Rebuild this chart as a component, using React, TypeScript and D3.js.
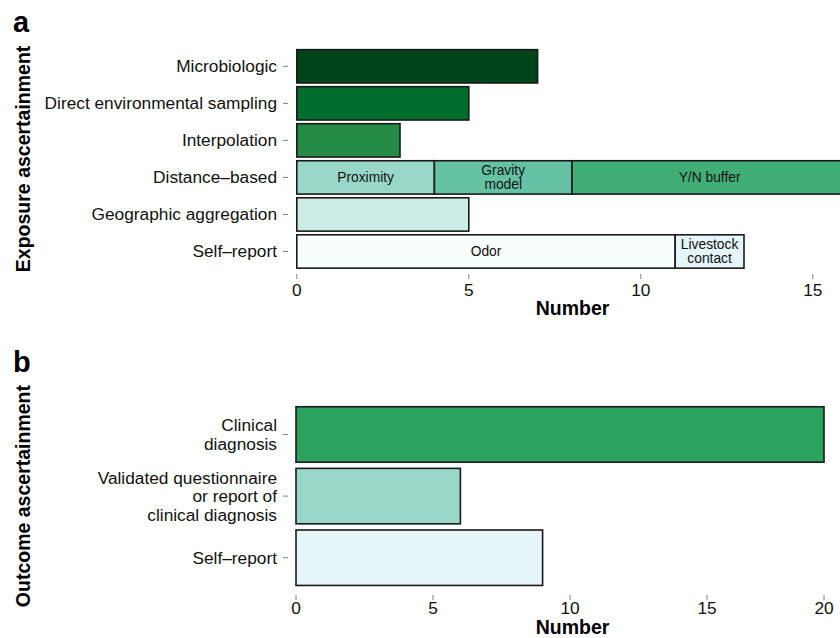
import React from "react";
import * as d3 from "d3";

// ---------- Data ----------
const exposureCategories = [
  "Microbiologic",
  "Direct environmental sampling",
  "Interpolation",
  "Distance–based",
  "Geographic aggregation",
  "Self–report",
];
const exposureSubtypes = [
  "Microbiologic",
  "Direct environmental sampling",
  "Interpolation",
  "Proximity",
  "Gravity\nmodel",
  "Y/N buffer",
  "Geographic aggregation",
  "Odor",
  "Livestock\ncontact",
];
const exposureSubtypeCategory = [0, 1, 2, 3, 3, 3, 4, 5, 5];
const exposureSubtypeCounts = [7, 5, 3, 4, 4, 8, 5, 11, 2];
const exposureSubtypeLabelled = [false, false, false, true, true, true, false, true, true];
const exposureTicks = [0, 5, 10, 15];

const outcomeCategories = [
  "Clinical\ndiagnosis",
  "Validated questionnaire\nor report of\nclinical diagnosis",
  "Self–report",
];
const outcomeCounts = [20, 6, 9];
const outcomeTicks = [0, 5, 10, 15, 20];

// ---------- Styles ----------
const exposureColors = [
  "#00441b",
  "#006d2c",
  "#238b45",
  "#99d8c9",
  "#66c2a4",
  "#41ae76",
  "#ccece6",
  "#f7fcfd",
  "#e5f5f9",
];
const outcomeColors = ["#2ca25f", "#99d8c9", "#e5f5f9"];

const FONT = "'Liberation Sans', Arial, Helvetica, sans-serif";
const TEXT = "#111";
const TICK = "#7f7f7f";
const STROKE = "#1a1a1a";

function MultiLine({ x, y, text, size, anchor, lh }: any) {
  const lines = text.split("\n");
  const off = -((lines.length - 1) * lh) / 2;
  return (
    <text x={x} y={y} fontSize={size} textAnchor={anchor} fill={TEXT} fontFamily={FONT}>
      {lines.map((l: string, i: number) => (
        <tspan key={i} x={x} y={y + off + i * lh} dominantBaseline="central">
          {l}
        </tspan>
      ))}
    </text>
  );
}

export default function App() {
  // Panel a scales
  const xA = d3.scaleLinear().domain([0, 16]).range([296.8, 296.8 + 16 * 34.4]);
  const yA = d3.scaleLinear().domain([0.4, exposureCategories.length + 0.6]).range([44.1, 273.7]);
  // Panel b scales (the reference's last interval is visibly compressed)
  const xB = d3.scaleLinear().domain([0, 15, 20]).range([296, 707, 824]);
  const yB = d3.scaleLinear().domain([0.4, outcomeCategories.length + 0.6]).range([397.5, 594.7]);

  // stack exposure segments
  const starts: number[] = [];
  const cum: Record<number, number> = {};
  exposureSubtypeCounts.forEach((v, i) => {
    const c = exposureSubtypeCategory[i];
    starts.push(cum[c] || 0);
    cum[c] = (cum[c] || 0) + v;
  });

  const bw = 0.9;
  const labelEnd = 277;
  const tickX0 = 283;
  const tickX1 = 288;
  const LBL = 17.3;

  return (
    <svg
      width={840}
      height={638}
      style={{ position: "absolute", left: 0, top: 0, background: "#fff" }}
      fontFamily={FONT}
    >
      <rect x={0} y={0} width={840} height={638} fill="#fff" />
      {/* ===== Panel a ===== */}
      <text x={13} y={32} fontSize={29} fontWeight="bold" fill="#000">
        a
      </text>
      <text
        transform={`translate(30, ${(yA.range()[0] + yA.range()[1]) / 2}) rotate(-90)`}
        textAnchor="middle"
        fontSize={19.5}
        fontWeight="bold"
        fill="#000"
      >
        Exposure ascertainment
      </text>
      {exposureCategories.map((c, i) => (
        <g key={c}>
          <line x1={tickX0} x2={tickX1} y1={yA(i + 1)} y2={yA(i + 1)} stroke={TICK} strokeWidth={1} />
          <MultiLine x={labelEnd} y={yA(i + 1)} text={c} size={LBL} anchor="end" lh={18.5} />
        </g>
      ))}
      {exposureSubtypeCounts.map((v, i) => {
        const c = exposureSubtypeCategory[i];
        const x0 = xA(starts[i]);
        const x1 = xA(starts[i] + v);
        const y0 = yA(c + 1 - bw / 2);
        const y1 = yA(c + 1 + bw / 2);
        return (
          <g key={i}>
            <rect
              x={x0}
              y={y0}
              width={x1 - x0}
              height={y1 - y0}
              fill={exposureColors[i]}
              stroke={STROKE}
              strokeWidth={1.6}
            />
            {exposureSubtypeLabelled[i] && (
              <MultiLine x={(x0 + x1) / 2} y={yA(c + 1)} text={exposureSubtypes[i]} size={13.8} anchor="middle" lh={13.5} />
            )}
          </g>
        );
      })}
      {exposureTicks.map((t) => (
        <g key={t}>
          <line x1={xA(t)} x2={xA(t)} y1={274} y2={279} stroke={TICK} strokeWidth={1} />
          <text x={xA(t)} y={296} textAnchor="middle" fontSize={LBL} fill={TEXT}>
            {t}
          </text>
        </g>
      ))}
      <text x={572.5} y={315} textAnchor="middle" fontSize={19.5} fontWeight="bold" fill="#000">
        Number
      </text>

      {/* ===== Panel b ===== */}
      <text x={13} y={372} fontSize={29} fontWeight="bold" fill="#000">
        b
      </text>
      <text
        transform={`translate(30, ${(yB.range()[0] + yB.range()[1]) / 2}) rotate(-90)`}
        textAnchor="middle"
        fontSize={19.5}
        fontWeight="bold"
        fill="#000"
      >
        Outcome ascertainment
      </text>
      {outcomeCategories.map((c, i) => (
        <g key={c}>
          <line x1={tickX0} x2={tickX1} y1={yB(i + 1)} y2={yB(i + 1)} stroke={TICK} strokeWidth={1} />
          <MultiLine x={labelEnd} y={yB(i + 1)} text={c} size={LBL} anchor="end" lh={18.5} />
          <rect
            x={xB(0)}
            y={yB(i + 1 - bw / 2)}
            width={xB(outcomeCounts[i]) - xB(0)}
            height={yB(i + 1 + bw / 2) - yB(i + 1 - bw / 2)}
            fill={outcomeColors[i]}
            stroke={STROKE}
            strokeWidth={1.6}
          />
        </g>
      ))}
      {outcomeTicks.map((t) => (
        <g key={t}>
          <line x1={xB(t)} x2={xB(t)} y1={595} y2={600} stroke={TICK} strokeWidth={1} />
          <text x={xB(t)} y={614} textAnchor="middle" fontSize={LBL} fill={TEXT}>
            {t}
          </text>
        </g>
      ))}
      <text x={572.5} y={634} textAnchor="middle" fontSize={19.5} fontWeight="bold" fill="#000">
        Number
      </text>
    </svg>
  );
}
